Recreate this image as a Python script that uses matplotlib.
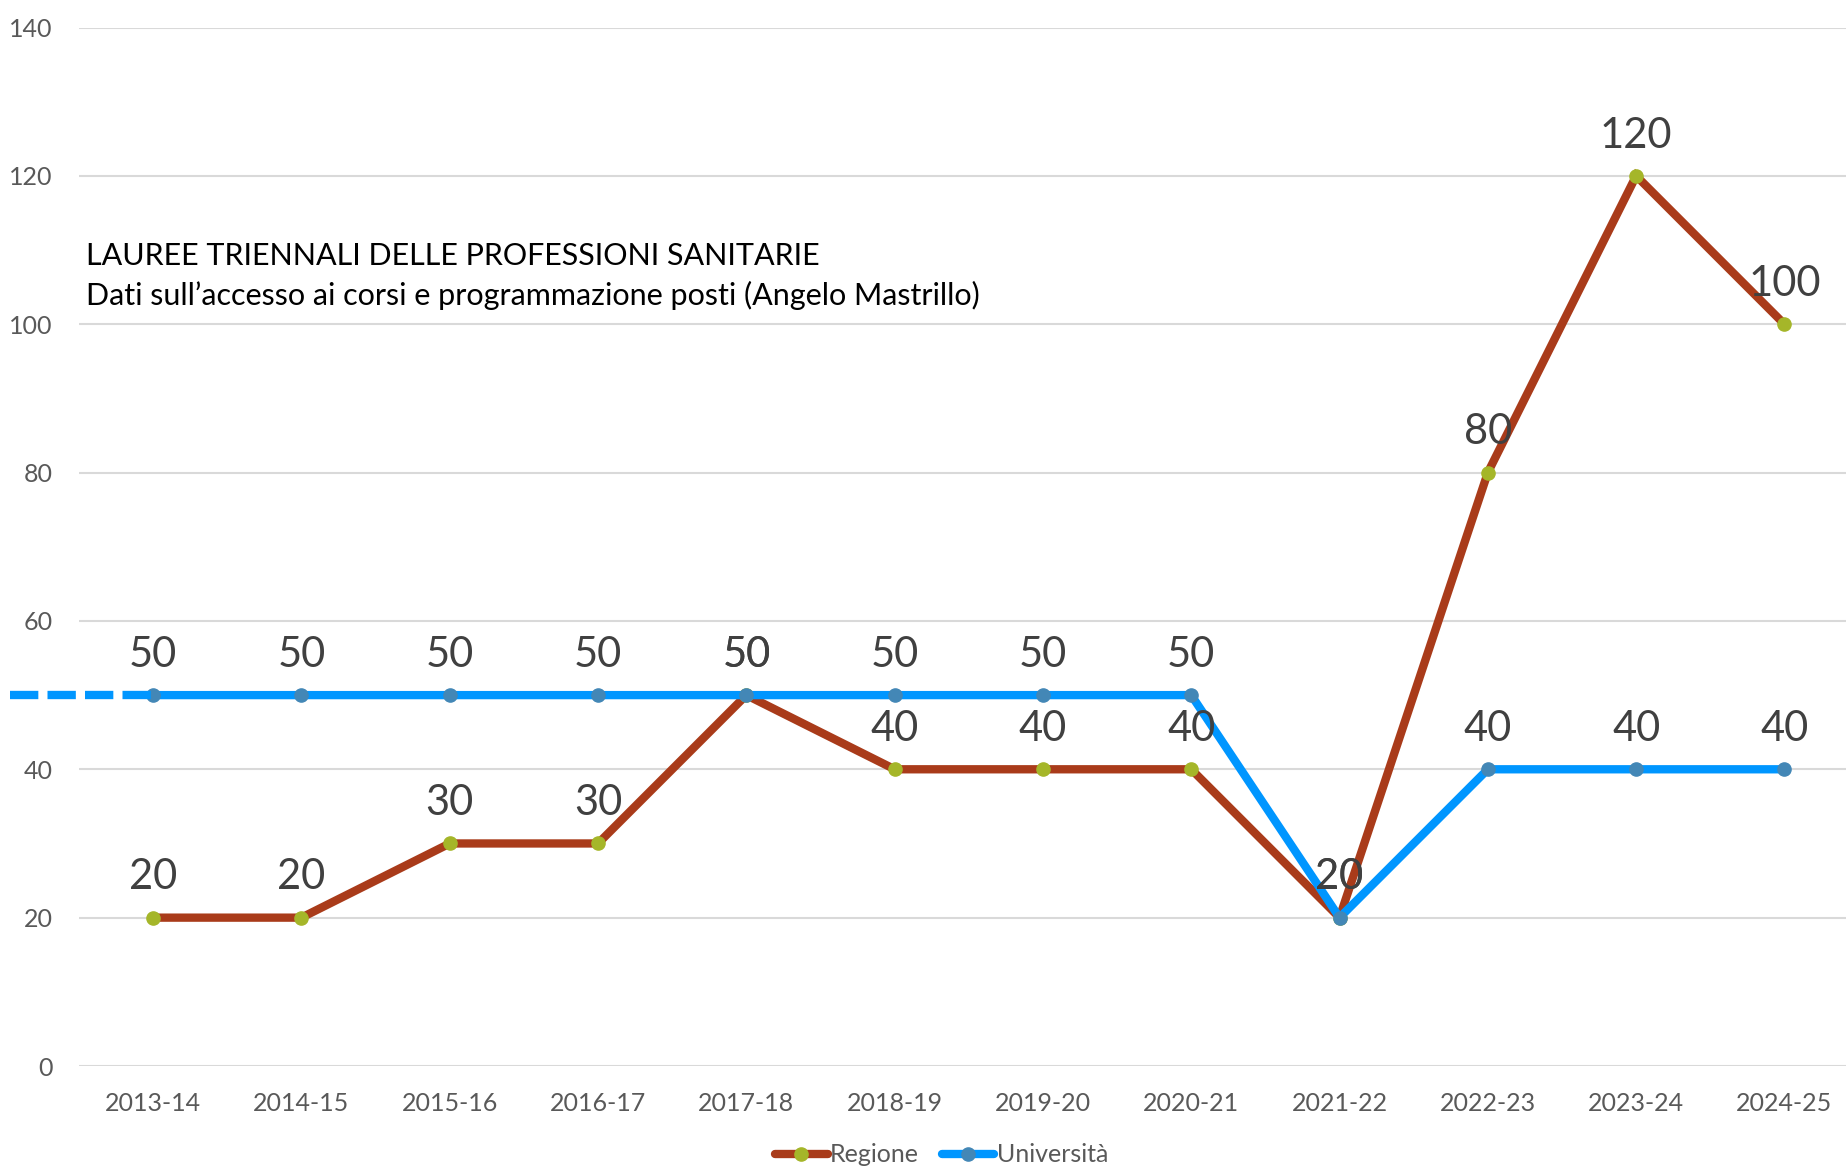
import matplotlib
matplotlib.use("Agg")
import matplotlib.pyplot as plt
from matplotlib.lines import Line2D

plt.rcParams['font.family'] = ['Lato', 'DejaVu Sans']

categories = ["2013-14", "2014-15", "2015-16", "2016-17", "2017-18", "2018-19",
              "2019-20", "2020-21", "2021-22", "2022-23", "2023-24", "2024-25"]
regione = [20, 20, 30, 30, 50, 40, 40, 40, 20, 80, 120, 100]
universita = [50, 50, 50, 50, 50, 50, 50, 50, 20, 40, 40, 40]
y_ticks = [0, 20, 40, 60, 80, 100, 120, 140]
dash_start = -0.964  # left extension of the Università line (dashed)

title = "LAUREE TRIENNALI DELLE PROFESSIONI SANITARIE"
subtitle = "Dati sull\u2019accesso ai corsi e programmazione posti (Angelo Mastrillo)"

RED = "#A93B1A"
RED_MK = "#A5B629"
BLUE = "#0096FF"
BLUE_MK = "#4387B6"
LABEL_C = "#404040"
TICK_C = "#595959"

fig = plt.figure(figsize=(18.46, 11.69), dpi=100)
ax = fig.add_axes([79 / 1846, 1 - 1066 / 1169, 1779.6 / 1846, 1038.5 / 1169])

x = list(range(len(categories)))
lw = 6.0
ax.plot(x, regione, color=RED, lw=lw, marker='o', ms=9.5, mfc=RED_MK, mec=RED_MK,
        solid_joinstyle='miter', zorder=3)
ax.plot(x, universita, color=BLUE, lw=lw, marker='o', ms=9.5, mfc=BLUE_MK, mec=BLUE_MK,
        zorder=4)
dl, = ax.plot([dash_start, 0], [universita[0], universita[0]], color=BLUE, lw=lw,
              clip_on=False, zorder=4, dash_capstyle='butt')
dl.set_dashes((3.4, 1.1))

for xs, vals in ((x, regione), (x, universita)):
    for xi, v in zip(xs, vals):
        ax.annotate(str(v), (xi, v), xytext=(0, 29), textcoords='offset points',
                    ha='center', va='center', fontsize=30, color=LABEL_C, zorder=6)

ax.set_xlim(-0.5, 11.5)
ax.set_ylim(0, 140)
ax.set_yticks(y_ticks)
ax.set_xticks(x)
ax.set_xticklabels(categories)
ax.tick_params(axis='both', length=0, colors=TICK_C, labelsize=18)
ax.tick_params(axis='x', pad=18.5)
ax.tick_params(axis='y', pad=19)
for lab in ax.get_yticklabels() + ax.get_xticklabels():
    lab.set_color(TICK_C)
ax.grid(axis='y', color='#D9D9D9', lw=1.5, zorder=0)
ax.set_axisbelow(True)
for s in ax.spines.values():
    s.set_visible(False)

fig.text(86 / 1846, 1 - 256 / 1169, title, fontsize=22, color='black', va='center', ha='left')
fig.text(86 / 1846, 1 - 295 / 1169, subtitle, fontsize=22, color='black', va='center', ha='left')

handles = [Line2D([], [], color=RED, lw=lw, marker='o', ms=9.5, mfc=RED_MK, mec=RED_MK,
                  solid_capstyle='round'),
           Line2D([], [], color=BLUE, lw=lw, marker='o', ms=9.5, mfc=BLUE_MK, mec=BLUE_MK,
                  solid_capstyle='round')]
leg = fig.legend(handles, ["Regione", "Università"], loc='center',
                 bbox_to_anchor=(0.51, 1 - 1155 / 1169), ncol=2, frameon=False,
                 fontsize=18, handlelength=2.1, handletextpad=0.1, columnspacing=0.9,
                 borderpad=0, borderaxespad=0)
for t in leg.get_texts():
    t.set_color(TICK_C)

fig.savefig("out.png", dpi=100)
